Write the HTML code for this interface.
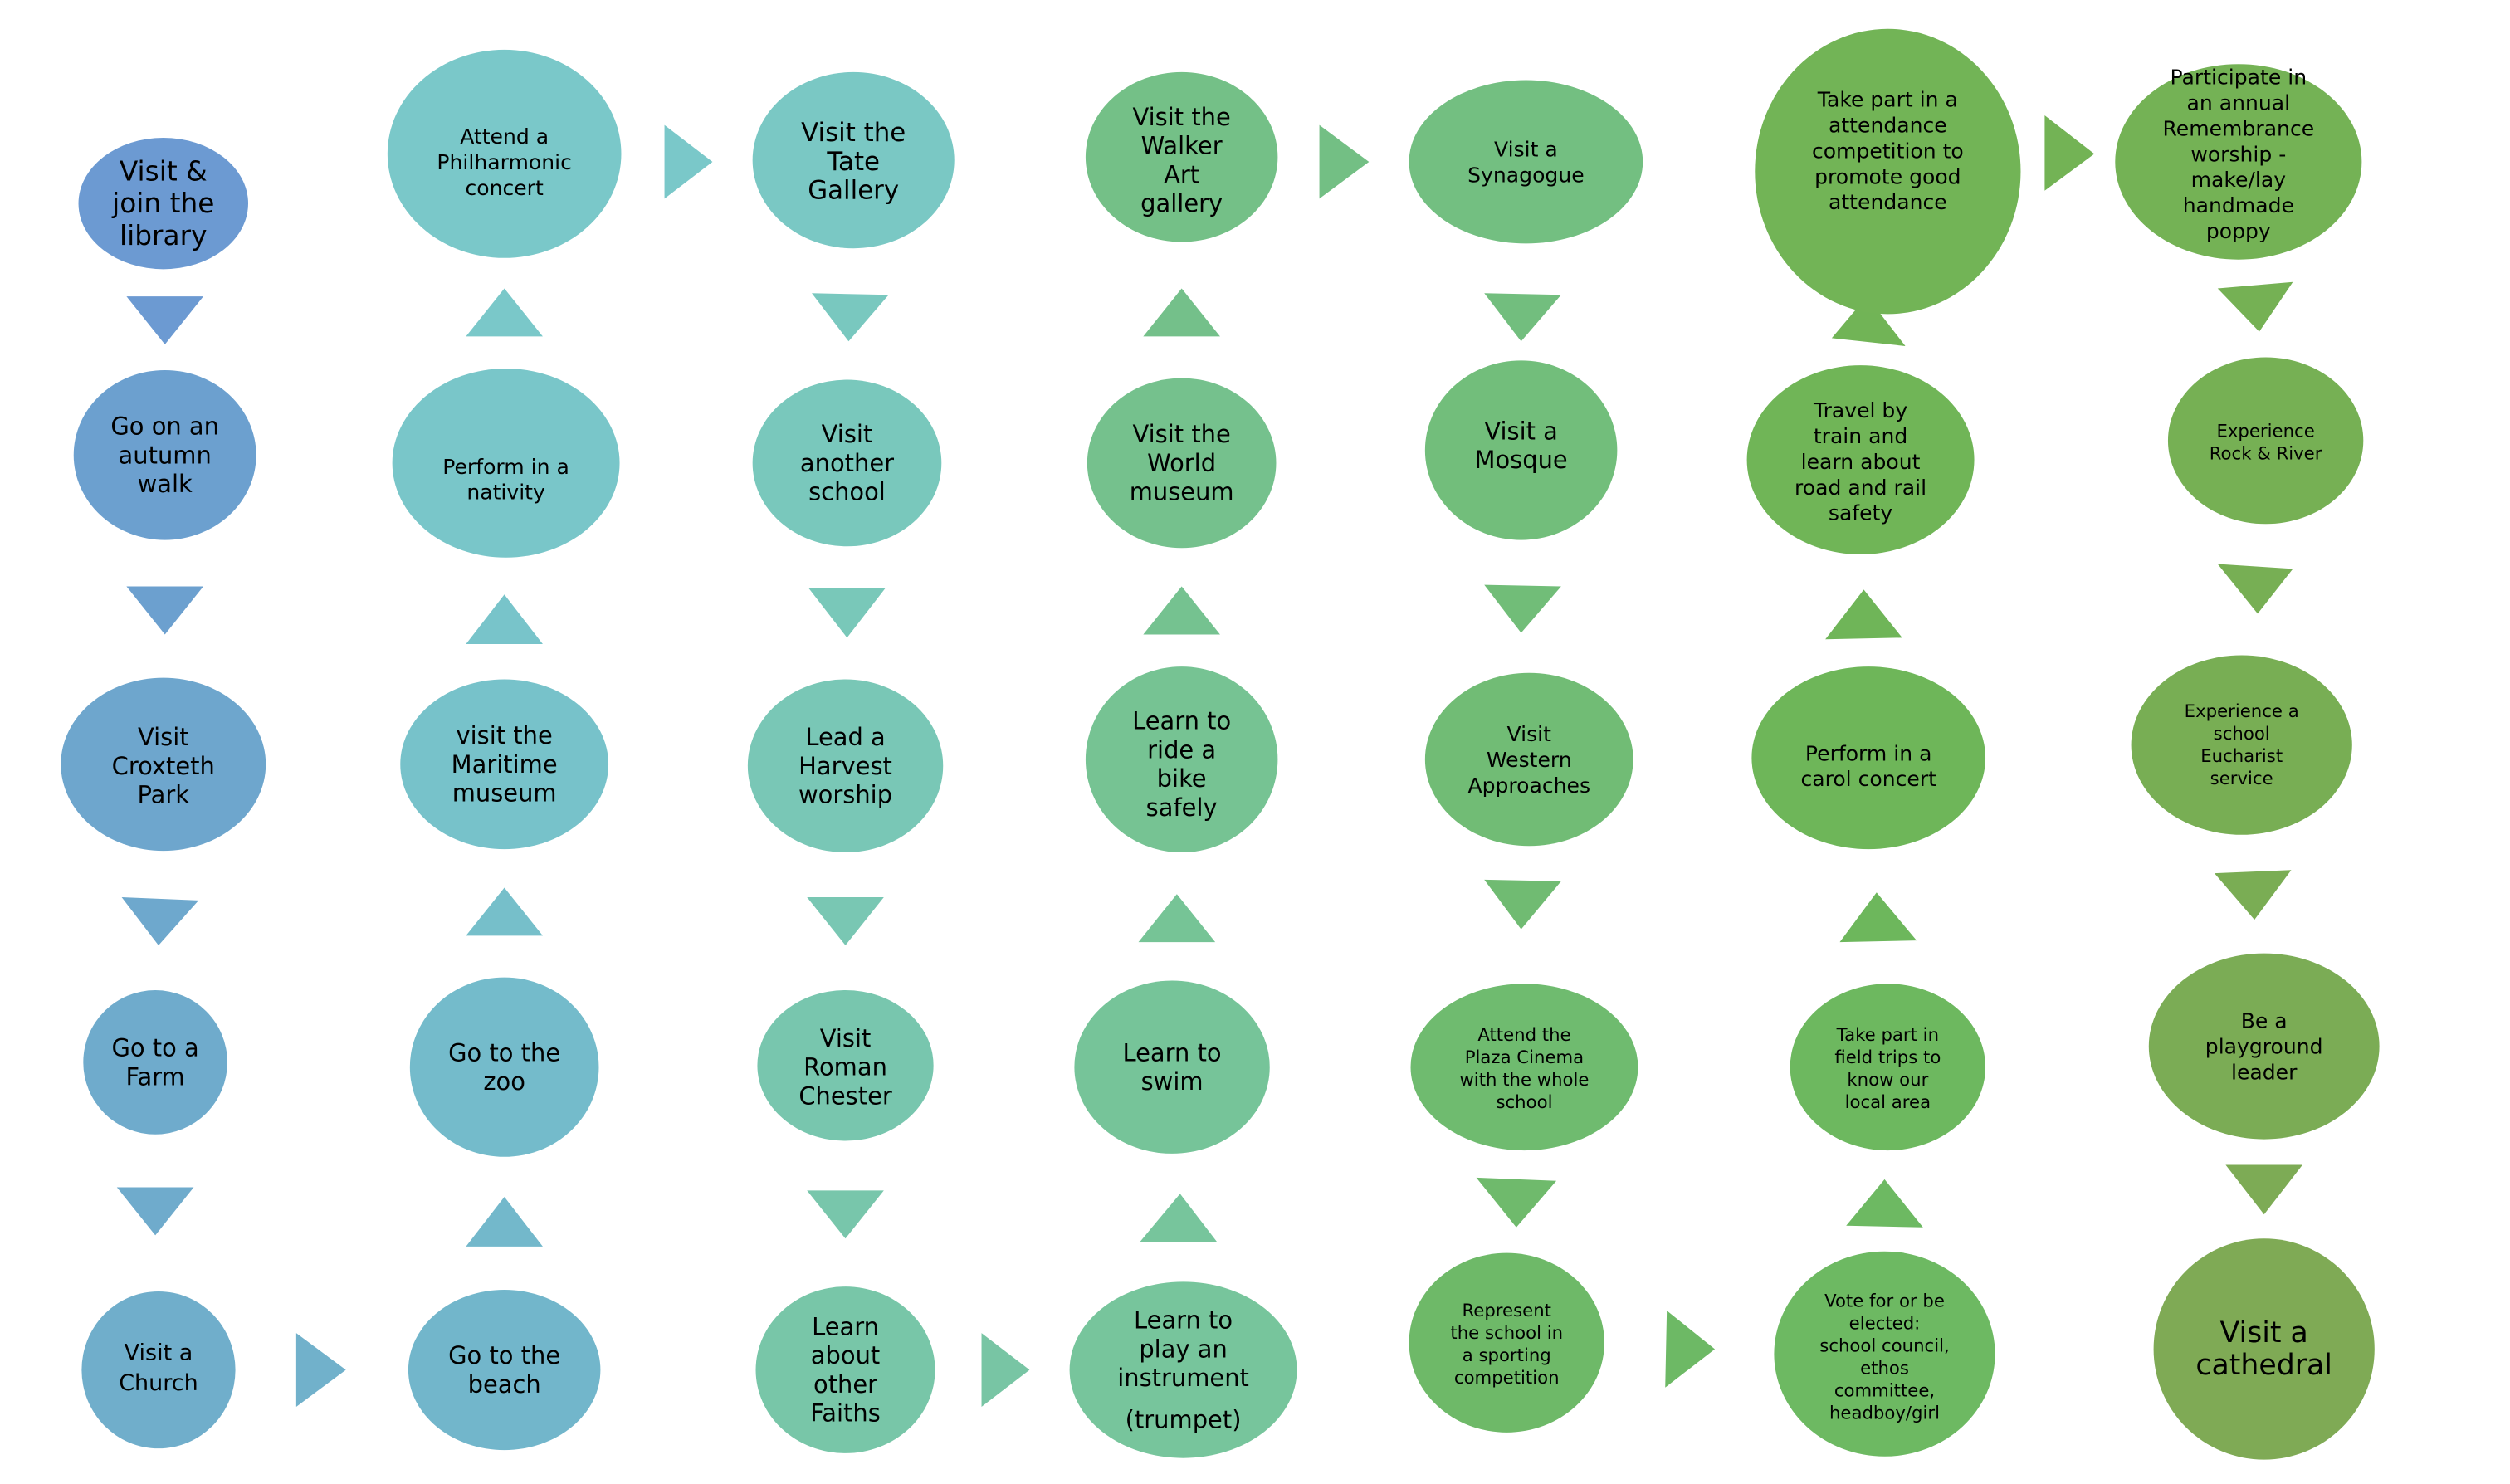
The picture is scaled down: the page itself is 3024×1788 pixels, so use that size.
<!DOCTYPE html>
<html><head><meta charset="utf-8"><style>
html,body{margin:0;padding:0;background:#fff;}
svg{display:block;}
text{font-family:"DejaVu Sans","Liberation Sans",sans-serif;fill:#000;text-anchor:middle;dominant-baseline:central;}
</style></head><body>
<svg width="3024" height="1788" viewBox="0 0 1567.6 926.2" preserveAspectRatio="none" xmlns="http://www.w3.org/2000/svg">
<!-- Column 1 -->
<ellipse cx="102" cy="127" rx="53" ry="41" fill="#6c9ad2"/>
<text font-size="17"><tspan x="102" y="107">Visit &amp;</tspan><tspan x="102" y="127">join the</tspan><tspan x="102" y="147">library</tspan></text>
<polygon points="79,185 127,185 103,215" fill="#6c9ad2"/>
<ellipse cx="103" cy="284" rx="57" ry="53" fill="#6ca0cf"/>
<text font-size="15"><tspan x="103" y="266">Go on an</tspan><tspan x="103" y="284">autumn</tspan><tspan x="103" y="302">walk</tspan></text>
<polygon points="79,366 127,366 103,396" fill="#6ca0cf"/>
<ellipse cx="102" cy="477" rx="64" ry="54" fill="#6ea6cd"/>
<text font-size="15"><tspan x="102" y="460">Visit</tspan><tspan x="102" y="478">Croxteth</tspan><tspan x="102" y="496">Park</tspan></text>
<polygon points="76,560 124,562 99,590" fill="#6ea8cd"/>
<ellipse cx="97" cy="663" rx="45" ry="45" fill="#6fabcc"/>
<text font-size="15"><tspan x="97" y="654">Go to a</tspan><tspan x="97" y="672">Farm</tspan></text>
<polygon points="73,741 121,741 97,771" fill="#6fabcc"/>
<ellipse cx="99" cy="855" rx="48" ry="49" fill="#70aecb"/>
<text font-size="14"><tspan x="99" y="844">Visit a</tspan><tspan x="99" y="863">Church</tspan></text>
<polygon points="185,832 216,855 185,878" fill="#71b1cb"/>
<!-- Column 2 -->
<ellipse cx="315" cy="855" rx="60" ry="50" fill="#72b6cb"/>
<text font-size="15"><tspan x="315" y="846">Go to the</tspan><tspan x="315" y="864">beach</tspan></text>
<polygon points="291,778 339,778 315,747" fill="#73b8cb"/>
<ellipse cx="315" cy="666" rx="59" ry="56" fill="#74bbcb"/>
<text font-size="15"><tspan x="315" y="657">Go to the</tspan><tspan x="315" y="675">zoo</tspan></text>
<polygon points="291,584 339,584 315,554" fill="#76bfca"/>
<ellipse cx="315" cy="477" rx="65" ry="53" fill="#77c2ca"/>
<text font-size="15"><tspan x="315" y="459">visit the</tspan><tspan x="315" y="477">Maritime</tspan><tspan x="315" y="495">museum</tspan></text>
<polygon points="291,402 339,402 315,371" fill="#78c4ca"/>
<ellipse cx="316" cy="289" rx="71" ry="59" fill="#79c6c9"/>
<text font-size="13"><tspan x="316" y="291">Perform in a</tspan><tspan x="316" y="307">nativity</tspan></text>
<polygon points="291,210 339,210 315,180" fill="#7ac8c9"/>
<ellipse cx="315" cy="96" rx="73" ry="65" fill="#7ac8c9"/>
<text font-size="13"><tspan x="315" y="85">Attend a</tspan><tspan x="315" y="101">Philharmonic</tspan><tspan x="315" y="117">concert</tspan></text>
<polygon points="415,78 445,101 415,124" fill="#7ac8c9"/>
<!-- Column 3 -->
<ellipse cx="533" cy="100" rx="63" ry="55" fill="#7ac8c4"/>
<text font-size="16"><tspan x="533" y="83">Visit the</tspan><tspan x="533" y="101">Tate</tspan><tspan x="533" y="119">Gallery</tspan></text>
<polygon points="507,183 555,184 530,213" fill="#79c8bf"/>
<ellipse cx="529" cy="289" rx="59" ry="52" fill="#79c8bc"/>
<text font-size="15"><tspan x="529" y="271">Visit</tspan><tspan x="529" y="289">another</tspan><tspan x="529" y="307">school</tspan></text>
<polygon points="505,367 553,367 529,398" fill="#79c8b9"/>
<ellipse cx="528" cy="478" rx="61" ry="54" fill="#79c7b6"/>
<text font-size="15"><tspan x="528" y="460">Lead a</tspan><tspan x="528" y="478">Harvest</tspan><tspan x="528" y="496">worship</tspan></text>
<polygon points="504,560 552,560 528,590" fill="#79c7b3"/>
<ellipse cx="528" cy="665" rx="55" ry="47" fill="#78c6ae"/>
<text font-size="15"><tspan x="528" y="648">Visit</tspan><tspan x="528" y="666">Roman</tspan><tspan x="528" y="684">Chester</tspan></text>
<polygon points="504,743 552,743 528,773" fill="#78c6ab"/>
<ellipse cx="528" cy="855" rx="56" ry="52" fill="#78c6a8"/>
<text font-size="15"><tspan x="528" y="828">Learn</tspan><tspan x="528" y="846">about</tspan><tspan x="528" y="864">other</tspan><tspan x="528" y="882">Faiths</tspan></text>
<polygon points="613,832 643,855 613,878" fill="#78c5a4"/>
<!-- Column 4 -->
<ellipse cx="739" cy="855" rx="71" ry="55" fill="#77c59c"/>
<text font-size="15"><tspan x="739" y="824">Learn to</tspan><tspan x="739" y="842">play an</tspan><tspan x="739" y="860">instrument</tspan><tspan x="739" y="886">(trumpet)</tspan></text>
<polygon points="712,775 760,775 737,745" fill="#77c59c"/>
<ellipse cx="732" cy="666" rx="61" ry="54" fill="#76c499"/>
<text font-size="15"><tspan x="732" y="657">Learn to</tspan><tspan x="732" y="675">swim</tspan></text>
<polygon points="711,588 759,588 735,558" fill="#76c496"/>
<ellipse cx="738" cy="474" rx="60" ry="58" fill="#76c393"/>
<text font-size="15"><tspan x="738" y="450">Learn to</tspan><tspan x="738" y="468">ride a</tspan><tspan x="738" y="486">bike</tspan><tspan x="738" y="504">safely</tspan></text>
<polygon points="714,396 762,396 738,366" fill="#75c290"/>
<ellipse cx="738" cy="289" rx="59" ry="53" fill="#75c18d"/>
<text font-size="15"><tspan x="738" y="271">Visit the</tspan><tspan x="738" y="289">World</tspan><tspan x="738" y="307">museum</tspan></text>
<polygon points="714,210 762,210 738,180" fill="#74c08a"/>
<ellipse cx="738" cy="98" rx="60" ry="53" fill="#74c087"/>
<text font-size="15"><tspan x="738" y="73">Visit the</tspan><tspan x="738" y="91">Walker</tspan><tspan x="738" y="109">Art</tspan><tspan x="738" y="127">gallery</tspan></text>
<polygon points="824,78 855,101 824,124" fill="#73bf84"/>
<!-- Column 5 -->
<ellipse cx="953" cy="101" rx="73" ry="51" fill="#73bf81"/>
<text font-size="13"><tspan x="953" y="93">Visit a</tspan><tspan x="953" y="109">Synagogue</tspan></text>
<polygon points="927,183 975,184 950,213" fill="#72be7e"/>
<ellipse cx="950" cy="281" rx="60" ry="56" fill="#72be7b"/>
<text font-size="15"><tspan x="950" y="269">Visit a</tspan><tspan x="950" y="287">Mosque</tspan></text>
<polygon points="927,365 975,366 950,395" fill="#71bd78"/>
<ellipse cx="955" cy="474" rx="65" ry="54" fill="#71bc75"/>
<text font-size="13"><tspan x="955" y="458">Visit</tspan><tspan x="955" y="474">Western</tspan><tspan x="955" y="490">Approaches</tspan></text>
<polygon points="927,549 975,550 950,580" fill="#70bb72"/>
<ellipse cx="952" cy="666" rx="71" ry="52" fill="#6fbb6f"/>
<text font-size="11"><tspan x="952" y="646">Attend the</tspan><tspan x="952" y="660">Plaza Cinema</tspan><tspan x="952" y="674">with the whole</tspan><tspan x="952" y="688">school</tspan></text>
<polygon points="922,735 972,737 947,766" fill="#6fba6c"/>
<ellipse cx="941" cy="838" rx="61" ry="56" fill="#6eb968"/>
<text font-size="11"><tspan x="941" y="818">Represent</tspan><tspan x="941" y="832">the school in</tspan><tspan x="941" y="846">a sporting</tspan><tspan x="941" y="860">competition</tspan></text>
<polygon points="1041,818 1071,842 1040,866" fill="#6db965"/>
<!-- Column 6 -->
<ellipse cx="1177" cy="845" rx="69" ry="64" fill="#6db962"/>
<text font-size="11"><tspan x="1177" y="812">Vote for or be</tspan><tspan x="1177" y="826">elected:</tspan><tspan x="1177" y="840">school council,</tspan><tspan x="1177" y="854">ethos</tspan><tspan x="1177" y="868">committee,</tspan><tspan x="1177" y="882">headboy/girl</tspan></text>
<polygon points="1153,765 1201,766 1177,736" fill="#6db962"/>
<ellipse cx="1179" cy="666" rx="61" ry="52" fill="#6db85f"/>
<text font-size="11"><tspan x="1179" y="646">Take part in</tspan><tspan x="1179" y="660">field trips to</tspan><tspan x="1179" y="674">know our</tspan><tspan x="1179" y="688">local area</tspan></text>
<polygon points="1149,588 1197,587 1172,557" fill="#6db75c"/>
<ellipse cx="1167" cy="473" rx="73" ry="57" fill="#6eb659"/>
<text font-size="13"><tspan x="1167" y="470">Perform in a</tspan><tspan x="1167" y="486">carol concert</tspan></text>
<polygon points="1140,399 1188,398 1164,368" fill="#6fb558"/>
<ellipse cx="1162" cy="287" rx="71" ry="59" fill="#70b557"/>
<text font-size="13"><tspan x="1162" y="256">Travel by</tspan><tspan x="1162" y="272">train and</tspan><tspan x="1162" y="288">learn about</tspan><tspan x="1162" y="304">road and rail</tspan><tspan x="1162" y="320">safety</tspan></text>
<polygon points="1144,211 1190,216 1166,185" fill="#71b456"/>
<ellipse cx="1179" cy="107" rx="83" ry="89" fill="#72b456"/>
<text font-size="13"><tspan x="1179" y="62">Take part in a</tspan><tspan x="1179" y="78">attendance</tspan><tspan x="1179" y="94">competition to</tspan><tspan x="1179" y="110">promote good</tspan><tspan x="1179" y="126">attendance</tspan></text>
<polygon points="1277,72 1308,96 1277,119" fill="#73b355"/>
<!-- Column 7 -->
<ellipse cx="1398" cy="101" rx="77" ry="61" fill="#74b255"/>
<text font-size="13"><tspan x="1398" y="48">Participate in</tspan><tspan x="1398" y="64">an annual</tspan><tspan x="1398" y="80">Remembrance</tspan><tspan x="1398" y="96">worship -</tspan><tspan x="1398" y="112">make/lay</tspan><tspan x="1398" y="128">handmade</tspan><tspan x="1398" y="144">poppy</tspan></text>
<polygon points="1385,180 1432,176 1411,207" fill="#75b154"/>
<ellipse cx="1415" cy="275" rx="61" ry="52" fill="#76b054"/>
<text font-size="11"><tspan x="1415" y="269">Experience</tspan><tspan x="1415" y="283">Rock &amp; River</tspan></text>
<polygon points="1385,352 1432,355 1410,383" fill="#77af54"/>
<ellipse cx="1400" cy="465" rx="69" ry="56" fill="#78ae54"/>
<text font-size="11"><tspan x="1400" y="444">Experience a</tspan><tspan x="1400" y="458">school</tspan><tspan x="1400" y="472">Eucharist</tspan><tspan x="1400" y="486">service</tspan></text>
<polygon points="1383,545 1431,543 1408,574" fill="#7aad54"/>
<ellipse cx="1414" cy="653" rx="72" ry="58" fill="#7bac55"/>
<text font-size="13"><tspan x="1414" y="637">Be a</tspan><tspan x="1414" y="653">playground</tspan><tspan x="1414" y="669">leader</tspan></text>
<polygon points="1390,727 1438,727 1414,758" fill="#7dab55"/>
<ellipse cx="1414" cy="842" rx="69" ry="69" fill="#7faa55"/>
<text font-size="18"><tspan x="1414" y="832">Visit a</tspan><tspan x="1414" y="852">cathedral</tspan></text>
</svg>
</body></html>
